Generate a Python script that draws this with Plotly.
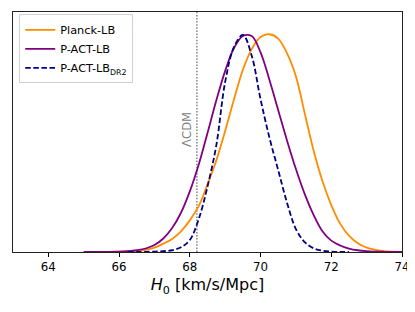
import plotly.graph_objects as go

# ---- data (normalised posteriors, peak = 1), 0.25 grid ----
planck_x = [65.0, 65.25, 65.5, 65.75, 66.0, 66.25, 66.5, 66.75, 67.0, 67.25, 67.5, 67.75,
            68.0, 68.25, 68.5, 68.75, 69.0, 69.25, 69.5, 69.75, 70.0, 70.25, 70.5, 70.75,
            71.0, 71.25, 71.5, 71.75, 72.0, 72.25, 72.5, 72.75, 73.0, 73.25, 73.5, 73.75, 74.0]
planck_y = [0.0, 0.0002, 0.0005, 0.001, 0.002, 0.0035, 0.006, 0.01, 0.02, 0.038, 0.06, 0.095,
            0.145, 0.21, 0.31, 0.42, 0.555, 0.70, 0.835, 0.93, 0.985, 0.998, 0.978, 0.91,
            0.805, 0.635, 0.465, 0.325, 0.215, 0.13, 0.075, 0.04, 0.02, 0.01, 0.004, 0.0015, 0.0005]

pact_x = [65.0, 65.25, 65.5, 65.75, 66.0, 66.25, 66.5, 66.75, 67.0, 67.25, 67.5, 67.75,
          68.0, 68.25, 68.5, 68.75, 69.0, 69.25, 69.5, 69.75, 70.0, 70.25, 70.5, 70.75,
          71.0, 71.25, 71.5, 71.75, 72.0, 72.25, 72.5, 72.75, 73.0, 73.25, 73.5, 73.75, 74.0]
pact_y = [0.0, 0.0001, 0.0003, 0.0007, 0.0015, 0.0035, 0.008, 0.016, 0.032, 0.062, 0.11, 0.18,
          0.278, 0.40, 0.545, 0.695, 0.83, 0.935, 0.99, 0.99, 0.915, 0.79, 0.65, 0.51,
          0.38, 0.265, 0.17, 0.095, 0.052, 0.03, 0.016, 0.008, 0.004, 0.002, 0.001, 0.0004, 0.0001]

dr2_x = [66.25, 66.5, 66.75, 67.0, 67.25, 67.5, 67.75, 68.0, 68.25, 68.5, 68.75, 69.0,
         69.25, 69.5, 69.75, 70.0, 70.25, 70.5, 70.75, 71.0, 71.25, 71.5, 71.75, 72.0,
         72.25, 72.5]
dr2_y = [0.0, 0.0005, 0.001, 0.002, 0.004, 0.008, 0.022, 0.055, 0.15, 0.30, 0.49, 0.78,
         0.94, 0.995, 0.90, 0.70, 0.525, 0.375, 0.225, 0.105, 0.045, 0.017, 0.006, 0.002,
         0.0005, 0.0]

series_names = ["Planck-LB", "P-ACT-LB", "P-ACT-LB<sub>DR2</sub>"]
lcdm_h0 = 68.2
lcdm_label = "ΛCDM"
x_ticks = [64, 66, 68, 70, 72, 74]
x_range = [63, 74]
y_range = [0, 1.1]

FONT = "DejaVu Sans"

fig = go.Figure()
fig.add_trace(go.Scatter(x=planck_x, y=planck_y, mode="lines", name=series_names[0],
                         line=dict(color="#FF8C00", width=1.8, shape="spline", smoothing=1)))
fig.add_trace(go.Scatter(x=pact_x, y=pact_y, mode="lines", name=series_names[1],
                         line=dict(color="#800080", width=1.8, shape="spline", smoothing=1)))
fig.add_trace(go.Scatter(x=dr2_x, y=dr2_y, mode="lines", name=series_names[2],
                         line=dict(color="#000080", width=1.8, shape="spline", smoothing=1,
                                   dash="5.5px,2.6px")))

fig.add_shape(type="line", x0=lcdm_h0, x1=lcdm_h0, y0=0, y1=1, xref="x", yref="paper",
              line=dict(color="#808080", width=1.5, dash="1.5px,1.6px"), layer="below")
fig.add_annotation(x=lcdm_h0, y=0.5125, xref="x", yref="paper", text=lcdm_label,
                   textangle=-90, showarrow=False, xanchor="center", yanchor="middle",
                   xshift=-10, font=dict(family=FONT, size=11.6, color="#808080"))

# the page body keeps its default 8px margin, so the figure is sized to fit the window
fig.update_layout(
    width=407, height=304,
    margin=dict(l=5, r=13, t=4, b=60),
    paper_bgcolor="white", plot_bgcolor="white",
    font=dict(family=FONT, color="black"),
    showlegend=True,
    legend=dict(x=0.016, y=0.99, xanchor="left", yanchor="top",
                bgcolor="rgba(255,255,255,0.8)", bordercolor="#d0d0d0", borderwidth=1,
                font=dict(family=FONT, size=11.3, color="black"),
                itemwidth=30, tracegroupgap=0),
    xaxis=dict(range=x_range, tickvals=x_ticks, ticks="outside", ticklen=3.5,
               tickwidth=1, tickcolor="black", showline=True, linecolor="#222222",
               linewidth=1, mirror=True, showgrid=False, zeroline=False,
               tickfont=dict(family=FONT, size=11.8, color="black"),
               title=dict(text="<i>H</i><sub>0</sub> [km/s/Mpc]",
                          font=dict(family=FONT, size=16, color="black"), standoff=6)),
    yaxis=dict(range=y_range, showticklabels=False, ticks="", showline=True,
               linecolor="#222222", linewidth=1, mirror=True, showgrid=False,
               zeroline=False),
)

fig.write_html("out.html")
